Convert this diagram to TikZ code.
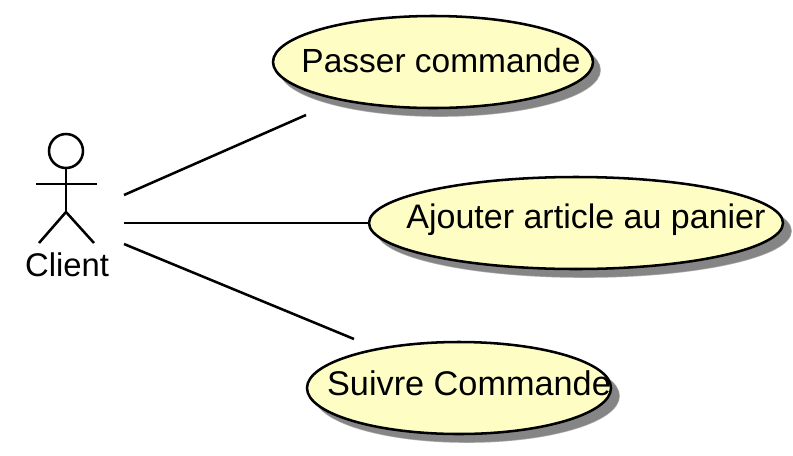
\documentclass[tikz,border=0pt]{standalone}
\usepackage{fontspec}
\setmainfont{Liberation Sans}
\usetikzlibrary{shapes.geometric}
\definecolor{ucfill}{HTML}{FEFEC4}
\definecolor{ucshadow}{HTML}{858585}
\tikzset{
  px/.style={x=0.75pt,y=-0.75pt},
  usecase/.style={ellipse,draw=black,line width=1.9pt,fill=ucfill,inner sep=0pt},
  softedge/.style={fill=ucshadow,draw=ucshadow,line width=1.2pt,draw opacity=0.45},
  link/.style={line width=1.9pt,black},
  actorline/.style={line width=1.9pt,black}
}
\begin{document}
\begin{tikzpicture}[px]
\useasboundingbox (0,0) rectangle (793,455);
\fill[white] (0,0) rectangle (793,455);
\fill[softedge] (440,70) ellipse [x radius=160,y radius=46];
\fill[softedge] (584,231) ellipse [x radius=207,y radius=46];
\fill[softedge] (467,396) ellipse [x radius=152,y radius=46];
\draw[softedge] (440,70) ellipse [x radius=160,y radius=46];
\draw[softedge] (584,231) ellipse [x radius=207,y radius=46];
\draw[softedge] (467,396) ellipse [x radius=152,y radius=46];
\node[usecase,minimum width=240pt,minimum height=69pt] (a) at (433,62) {};
\node[usecase,minimum width=310.5pt,minimum height=69pt] (b) at (576,223) {};
\node[usecase,minimum width=228pt,minimum height=69pt] (c) at (459,388) {};
\node[font=\fontsize{25.1pt}{28pt}\selectfont] (ta) at (441,61) {Passer commande};
\node[font=\fontsize{25.5pt}{28pt}\selectfont] (tb) at (586,220) {Ajouter article au panier};
\node[font=\fontsize{25.7pt}{28pt}\selectfont] (tc) at (469,383) {Suivre Commande};
\node[font=\fontsize{24.6pt}{28pt}\selectfont] (client) at (67,265) {Client};
\node[circle,draw=black,line width=1.9pt,fill=white,minimum size=25.5pt,inner sep=0pt] (head) at (66,151) {};
\coordinate (hip) at (66,212);
\coordinate (armL) at (36,184);
\coordinate (armR) at (97,184);
\coordinate (footL) at (39,243);
\coordinate (footR) at (94,243);
\draw[actorline] (head.south) -- (hip);
\draw[actorline] (armL) -- (armR);
\draw[actorline] (footL) -- (hip) -- (footR);
\coordinate (s1) at (124,195);
\coordinate (s2) at (124,223);
\coordinate (s3) at (124,244);
\coordinate (e1) at (306,115);
\coordinate (e3) at (354,339);
\draw[link] (s1) -- (e1);
\draw[link] (s2) -- (b.west);
\draw[link] (s3) -- (e3);
\end{tikzpicture}
\end{document}
